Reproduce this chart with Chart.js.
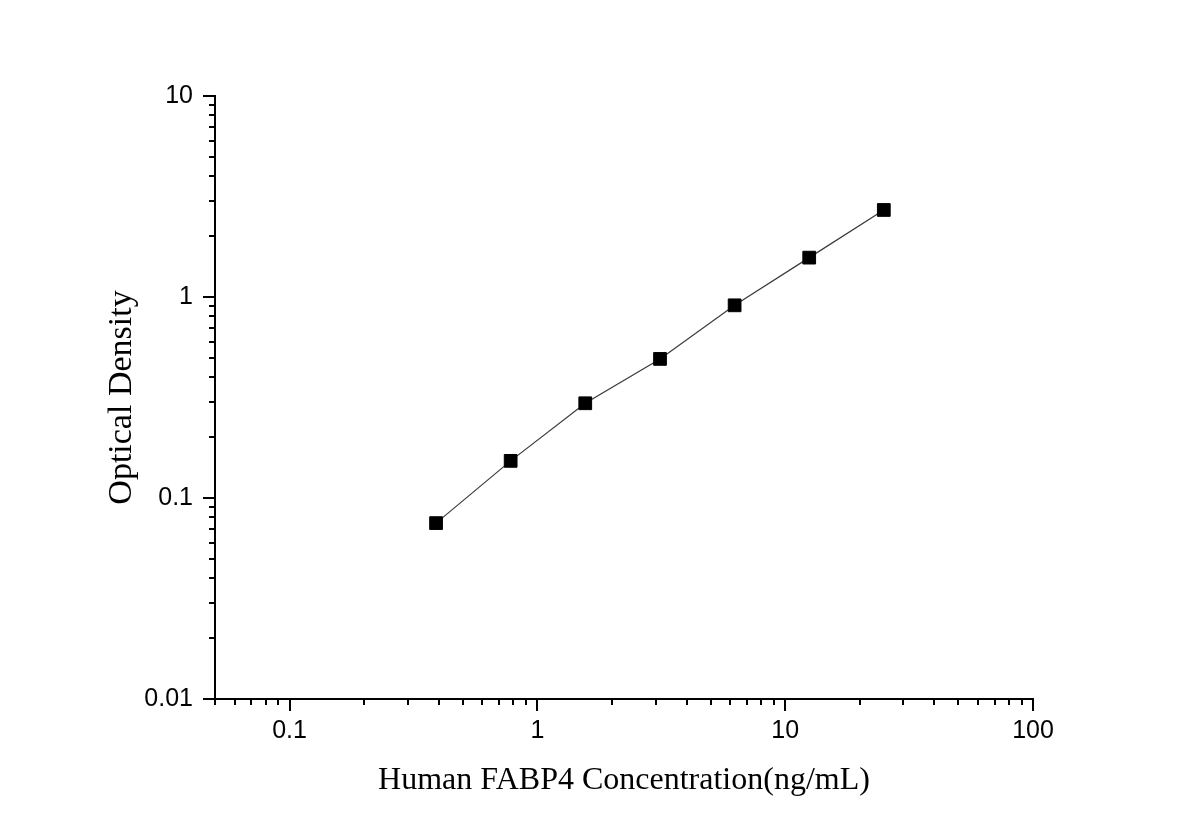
<!DOCTYPE html>
<html>
<head>
<meta charset="utf-8">
<title>Human FABP4 standard curve</title>
<script src="https://cdn.jsdelivr.net/npm/chart.js@4.4.1/dist/chart.umd.min.js"></script>
<style>
  html, body { margin: 0; padding: 0; background: #ffffff; }
  #curve { display: block; }
</style>
</head>
<body>
<canvas id="curve" width="1200" height="838"></canvas>
<script>
// standard concentrations (ng/mL) and measured OD
let concentration = [0.39, 0.78, 1.56, 3.125, 6.25, 12.5, 25];
let opticalDensity = [0.075, 0.153, 0.296, 0.492, 0.909, 1.57, 2.71];

let xMajorTicks = [0.1, 1, 10, 100];
let yMajorTicks = [0.01, 0.1, 1, 10];
let xRange = [0.05, 100];
let yRange = [0.01, 10];

// little outward minor ticks on both log axes
let minorTicks = {
    id: 'minorTicks',
    afterDraw(chart) {
        let ctx = chart.ctx;
        let xs = chart.scales.x;
        let ys = chart.scales.y;
        ctx.save();
        ctx.strokeStyle = '#000';
        ctx.lineWidth = 2;
        ctx.beginPath();
        for (let e = -2; e <= 2; e++) {
            for (let m = 2; m <= 9; m++) {
                let v = m * Math.pow(10, e);
                if (v >= xRange[0] - 1e-9 && v < xRange[1]) {
                    let px = Math.round(xs.getPixelForValue(v));
                    ctx.moveTo(px, xs.top);
                    ctx.lineTo(px, xs.top + 6);
                }
                if (v > yRange[0] && v < yRange[1]) {
                    let py = Math.round(ys.getPixelForValue(v));
                    ctx.moveTo(ys.right, py);
                    ctx.lineTo(ys.right - 6, py);
                }
            }
        }
        ctx.stroke();
        ctx.restore();
    }
};

let ctx = document.querySelector('#curve').getContext('2d');

let curve = new Chart(ctx, {
    type: 'line',
    data: {
        datasets: [{
            label: 'OD',
            data: concentration.map(function (c, i) { return {x: c, y: opticalDensity[i]}; }),
            borderColor: '#3a3a3a',
            borderWidth: 1.2,
            tension: 0,
            pointStyle: 'rect',
            pointRadius: 9,
            pointBorderWidth: 1,
            pointBackgroundColor: '#000',
            pointBorderColor: '#000',
            fill: false
        }]
    },
    options: {
        responsive: false,
        animation: false,
        devicePixelRatio: 1,
        layout: { padding: { top: 96, right: 167, left: 0, bottom: 0 } },
        plugins: {
            legend: { display: false },
            tooltip: { enabled: false }
        },
        scales: {
            x: {
                type: 'logarithmic',
                position: 'bottom',
                min: xRange[0],
                max: xRange[1],
                afterBuildTicks: function (scale) {
                    scale.ticks = xMajorTicks.map(function (v) { return {value: v}; });
                },
                afterFit: function (scale) { scale.height = 139; },
                ticks: {
                    color: '#000',
                    padding: 5,
                    autoSkip: false,
                    maxRotation: 0,
                    font: { family: 'Liberation Sans, Arial, sans-serif', size: 25 },
                    callback: function (v) { return String(v); }
                },
                grid: {
                    drawOnChartArea: false,
                    drawTicks: true,
                    tickLength: 12,
                    tickWidth: 2,
                    tickColor: '#000',
                    lineWidth: 2,
                    color: '#000'
                },
                border: { display: true, color: '#000', width: 2 },
                title: {
                    display: true,
                    text: 'Human FABP4 Concentration(ng/mL)',
                    color: '#000',
                    font: { family: 'Liberation Serif, Times New Roman, serif', size: 32 },
                    padding: { top: 4, bottom: 38 }
                }
            },
            y: {
                type: 'logarithmic',
                position: 'left',
                min: yRange[0],
                max: yRange[1],
                afterBuildTicks: function (scale) {
                    scale.ticks = yMajorTicks.map(function (v) { return {value: v}; });
                },
                afterFit: function (scale) { scale.width = 215; },
                ticks: {
                    color: '#000',
                    padding: 10,
                    autoSkip: false,
                    font: { family: 'Liberation Sans, Arial, sans-serif', size: 25 },
                    callback: function (v) { return String(v); }
                },
                grid: {
                    drawOnChartArea: false,
                    drawTicks: true,
                    tickLength: 12,
                    tickWidth: 2,
                    tickColor: '#000',
                    lineWidth: 2,
                    color: '#000'
                },
                border: { display: true, color: '#000', width: 2 },
                title: {
                    display: true,
                    text: 'Optical Density',
                    color: '#000',
                    font: { family: 'Liberation Serif, Times New Roman, serif', size: 34 },
                    padding: { top: 102, bottom: 4 }
                }
            }
        }
    },
    plugins: [minorTicks]
});
</script>
</body>
</html>
